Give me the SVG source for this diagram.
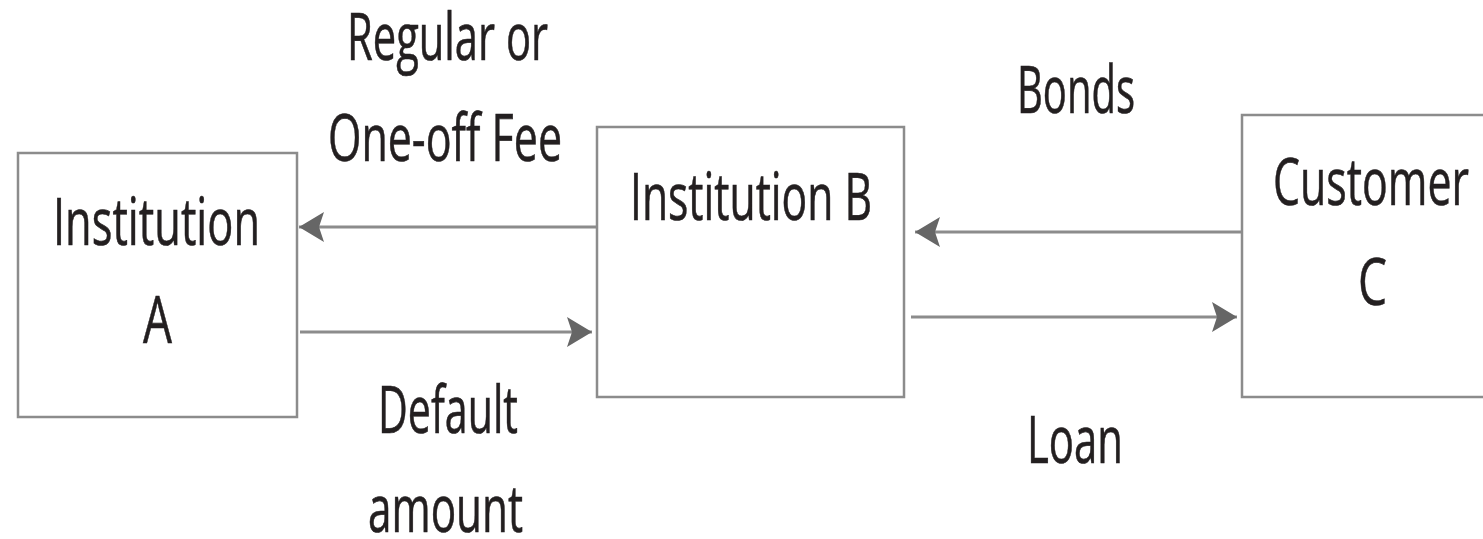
<svg xmlns="http://www.w3.org/2000/svg" width="1483" height="539" viewBox="0 0 1483 539">
<style>
.box{fill:#fff;stroke:#8c8c8c;stroke-width:2.5}
.t{font-family:"Open Sans","Liberation Sans",Arial,sans-serif;font-size:65px;fill:#231f20;stroke:#231f20;stroke-width:0.6}
.ln{stroke:#8c8c8c;stroke-width:3;fill:none}
</style>
<defs>
<marker id="ah" markerUnits="userSpaceOnUse" markerWidth="26" markerHeight="32" refX="25" refY="16" orient="auto">
<path d="M0,1 L25,16 L0,31 L5,16 Z" fill="#666"/>
</marker>
</defs>
<rect width="1483" height="539" fill="#fff"/>
<g id="connectors">
<line class="ln" x1="596" y1="227" x2="299" y2="227" marker-end="url(#ah)"/>
<line class="ln" x1="300" y1="332" x2="592" y2="332" marker-end="url(#ah)"/>
<line class="ln" x1="1241" y1="232" x2="915" y2="232" marker-end="url(#ah)"/>
<line class="ln" x1="911" y1="317" x2="1237" y2="317" marker-end="url(#ah)"/>
<text class="t" x="347" y="60" textLength="201" lengthAdjust="spacingAndGlyphs">Regular or</text>
<text class="t" x="328" y="161" textLength="234" lengthAdjust="spacingAndGlyphs">One-off Fee</text>
<text class="t" x="378" y="433" textLength="140" lengthAdjust="spacingAndGlyphs">Default</text>
<text class="t" x="368" y="532" textLength="155" lengthAdjust="spacingAndGlyphs">amount</text>
<text class="t" x="1017" y="113" textLength="118" lengthAdjust="spacingAndGlyphs">Bonds</text>
<text class="t" x="1027" y="463" textLength="96" lengthAdjust="spacingAndGlyphs">Loan</text>
</g>
<g id="nodeA">
<rect class="box" x="18" y="153" width="279" height="264"/>
<text class="t" x="53" y="245" textLength="207" lengthAdjust="spacingAndGlyphs">Institution</text>
<text class="t" x="143" y="343" textLength="29" lengthAdjust="spacingAndGlyphs">A</text>
</g>
<g id="nodeB">
<rect class="box" x="597" y="127" width="307" height="270"/>
<text class="t" x="630" y="220" textLength="242" lengthAdjust="spacingAndGlyphs">Institution B</text>
</g>
<g id="nodeC">
<rect class="box" x="1242" y="115" width="260" height="282"/>
<text class="t" x="1273" y="205" textLength="196" lengthAdjust="spacingAndGlyphs">Customer</text>
<text class="t" x="1358" y="305" textLength="29" lengthAdjust="spacingAndGlyphs">C</text>
</g>
</svg>
